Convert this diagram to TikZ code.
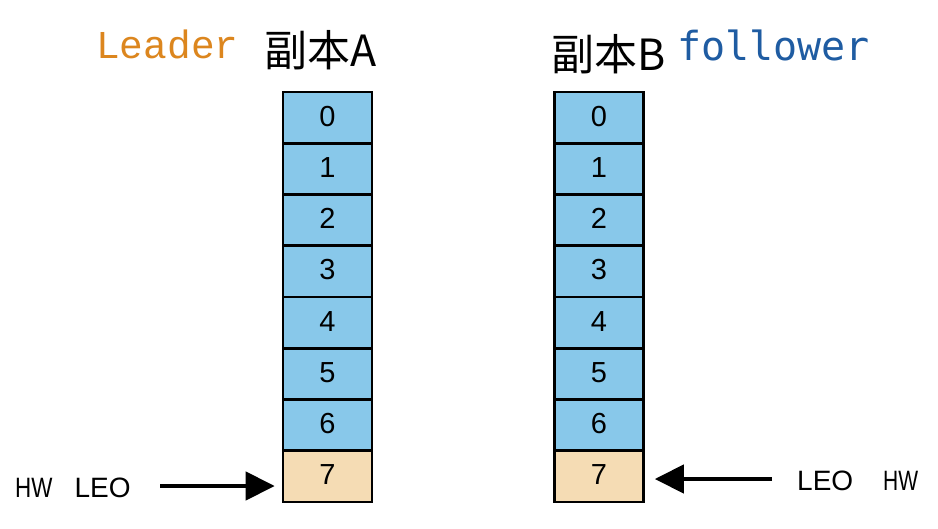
\documentclass[tikz,border=0pt]{standalone}
\usepackage{fontspec}
\usepackage{graphicx}
\setmainfont{Liberation Sans}
\newfontfamily\cjk{Noto Sans CJK SC}
\newfontfamily\lmono{Liberation Mono}
\newfontfamily\dmono{DejaVu Sans Mono}
\usetikzlibrary{arrows.meta}
\definecolor{cellblue}{HTML}{88C8EA}
\definecolor{celltan}{HTML}{F5DCB4}
\definecolor{leadcol}{HTML}{DC861E}
\definecolor{follcol}{HTML}{1F5CA2}
\tikzset{
  cellbox/.style={draw=black, line width=2.6pt, fill=cellblue, minimum width=89pt, minimum height=51.25pt, inner sep=0pt, font=\fontsize{29}{32}\selectfont},
  lastbox/.style={cellbox, fill=celltan},
  ptrarrow/.style={line width=4.5pt, -{Triangle[length=29pt,width=28pt]}},
  title/.style={anchor=base west, inner sep=0pt},
  ptrlabel/.style={anchor=base west, inner sep=0pt, font=\fontsize{28}{32}\selectfont}
}
\begin{document}
\begin{tikzpicture}[x=1pt,y=-1pt]
\useasboundingbox[fill=white] (0,0) rectangle (938,528);
% titles
\node[title, text=leadcol, font=\lmono\fontsize{39.5}{44}\selectfont] (tl) at (96,58) {Leader};
\node[title, font=\cjk\fontsize{43}{48}\selectfont] (ta) at (264,66) {副本A};
\node[title, font=\cjk\fontsize{43}{48}\selectfont] (tb) at (551,70) {副本B};
\node[title, text=follcol, font=\dmono\fontsize{40}{48}\selectfont] (tf) at (677,60) {follower};
% columns
\foreach \i in {0,...,6} {
  \node[cellbox] (a\i) at (327.5,{117.6+51.25*\i}) {\raisebox{3pt}{\i}};
  \node[cellbox] (b\i) at (599,{117.6+51.25*\i}) {\raisebox{3pt}{\i}};
}
\node[lastbox] (a7) at (327.5,{117.6+51.25*7}) {\raisebox{3pt}{7}};
\node[lastbox] (b7) at (599,{117.6+51.25*7}) {\raisebox{3pt}{7}};
% pointers
\node[ptrlabel] (lhl) at (15,497) {\scalebox{0.8}[1]{HW}\hspace{22pt}LEO};
\coordinate (lt) at (160,486);
\draw[ptrarrow, shorten >=7pt] (lt) -- (a7.west |- lt);
\node[ptrlabel] (rhl) at (797,490) {LEO\hspace{30pt}\scalebox{0.75}[1]{HW}};
\coordinate (rt) at (772,479);
\draw[ptrarrow, shorten >=10pt] (rt) -- (b7.east |- rt);
\end{tikzpicture}
\end{document}
